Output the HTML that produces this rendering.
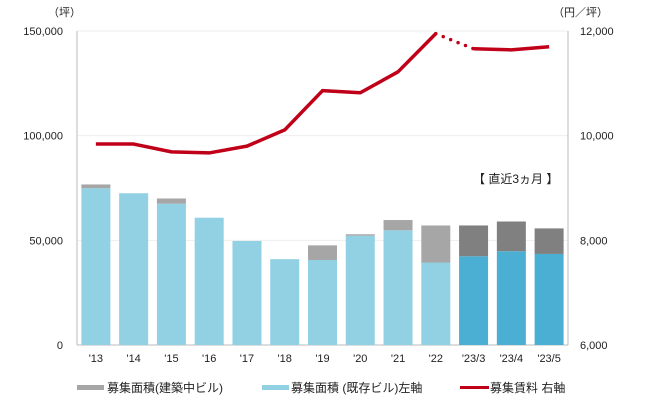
<!DOCTYPE html>
<html><head><meta charset="utf-8"><style>
body{margin:0;background:#fff;width:650px;height:413px;overflow:hidden;font-family:"Liberation Sans","Noto Sans CJK JP",sans-serif;}
svg text{font-family:"Liberation Sans","Noto Sans CJK JP",sans-serif;fill:#222;}
</style></head><body>
<svg id="c" width="650" height="413"></svg>
<script>
const categories=["'13","'14","'15","'16","'17","'18","'19","'20","'21","'22","'23/3","'23/4","'23/5"];
const existing=[74900,72500,67500,60800,49700,41000,40600,52200,54800,39400,42400,44800,43500];
const construction=[1800,0,2500,0,0,0,7000,700,4900,17700,14700,14200,12200];
const rent=[9840,9840,9690,9670,9800,10110,10860,10820,11220,11950,11660,11640,11700];
const leftTicks=[0,50000,100000,150000];
const rightTicks=[6000,8000,10000,12000];
const NS="http://www.w3.org/2000/svg";
const svg=document.getElementById('c');
const L=77,R=568,T=31,B=345,pitch=(R-L)/categories.length,bw=29;
const yL=v=>B-(v/150000)*(B-T);
const yR=v=>B-((v-6000)/6000)*(B-T);
const xC=i=>L+pitch*(i+0.5);
function mk(tag,attrs,txt){const e=document.createElementNS(NS,tag);for(const k in attrs)e.setAttribute(k,attrs[k]);if(txt!==undefined)e.textContent=txt;svg.appendChild(e);return e;}
leftTicks.forEach(v=>{const g=mk('line',{x1:L,x2:R,y1:yL(v),y2:yL(v),stroke:v===0?'#bbb':'#eee','stroke-width':1});


const t=mk('text',{x:L-14,y:yL(v)+4,'text-anchor':'end','font-size':11},v.toLocaleString('en-US'));

});
rightTicks.forEach(v=>{const t=mk('text',{x:R+12,y:yR(v)+4,'font-size':11},v.toLocaleString('en-US'));

});
const la=mk('line',{x1:L,x2:L,y1:T,y2:B,stroke:'#bbb'});
const ra=mk('line',{x1:R,x2:R,y1:T,y2:B,stroke:'#bbb'});
const u1=mk('text',{x:48,y:16,'font-size':11},'（坪）');
const u2=mk('text',{x:553,y:16,'font-size':11},'（円／坪）');
categories.forEach((c,i)=>{
 const recent=i>=10;
 const x=xC(i)-bw/2;
 const b1=mk('rect',{x:x,y:yL(existing[i]),width:bw,height:B-yL(existing[i]),fill:recent?'#4AAFD3':'#92D0E3'});
 
 
 if(construction[i]>0){const top=existing[i]+construction[i];
 const b2=mk('rect',{x:x,y:yL(top),width:bw,height:yL(existing[i])-yL(top),fill:recent?'#808080':'#A6A6A6'});
 
 }
 const t=mk('text',{x:xC(i),y:362,'text-anchor':'middle','font-size':11},c);
 
 
});
const pts=rent.map((v,i)=>xC(i)+','+yR(v));
const l1=mk('polyline',{points:pts.slice(0,10).join(' '),fill:'none',stroke:'#C00018','stroke-width':3.5,'stroke-linejoin':'round'});

const l2=mk('polyline',{points:pts.slice(9,11).join(' '),fill:'none',stroke:'#C00018','stroke-width':3.5,'stroke-dasharray':'0 8','stroke-linecap':'round'});

const l3=mk('polyline',{points:pts.slice(10).join(' '),fill:'none',stroke:'#C00018','stroke-width':3.5});

const n=mk('text',{x:473,y:183,'font-size':12},'【 直近3ヵ月 】');
const s1=mk('rect',{x:77,y:385,width:27,height:5,fill:'#A6A6A6'});
const t1=mk('text',{x:107,y:392,'font-size':12},'募集面積(建築中ビル)');
const s2=mk('rect',{x:262,y:385,width:27,height:5,fill:'#92D0E3'});
const t2=mk('text',{x:291,y:392,'font-size':12},'募集面積 (既存ビル)左軸');
const s3=mk('rect',{x:460,y:386,width:29,height:3,fill:'#C00018'});
const t3=mk('text',{x:490,y:392,'font-size':12},'募集賃料 右軸');
</script>
</body></html>
